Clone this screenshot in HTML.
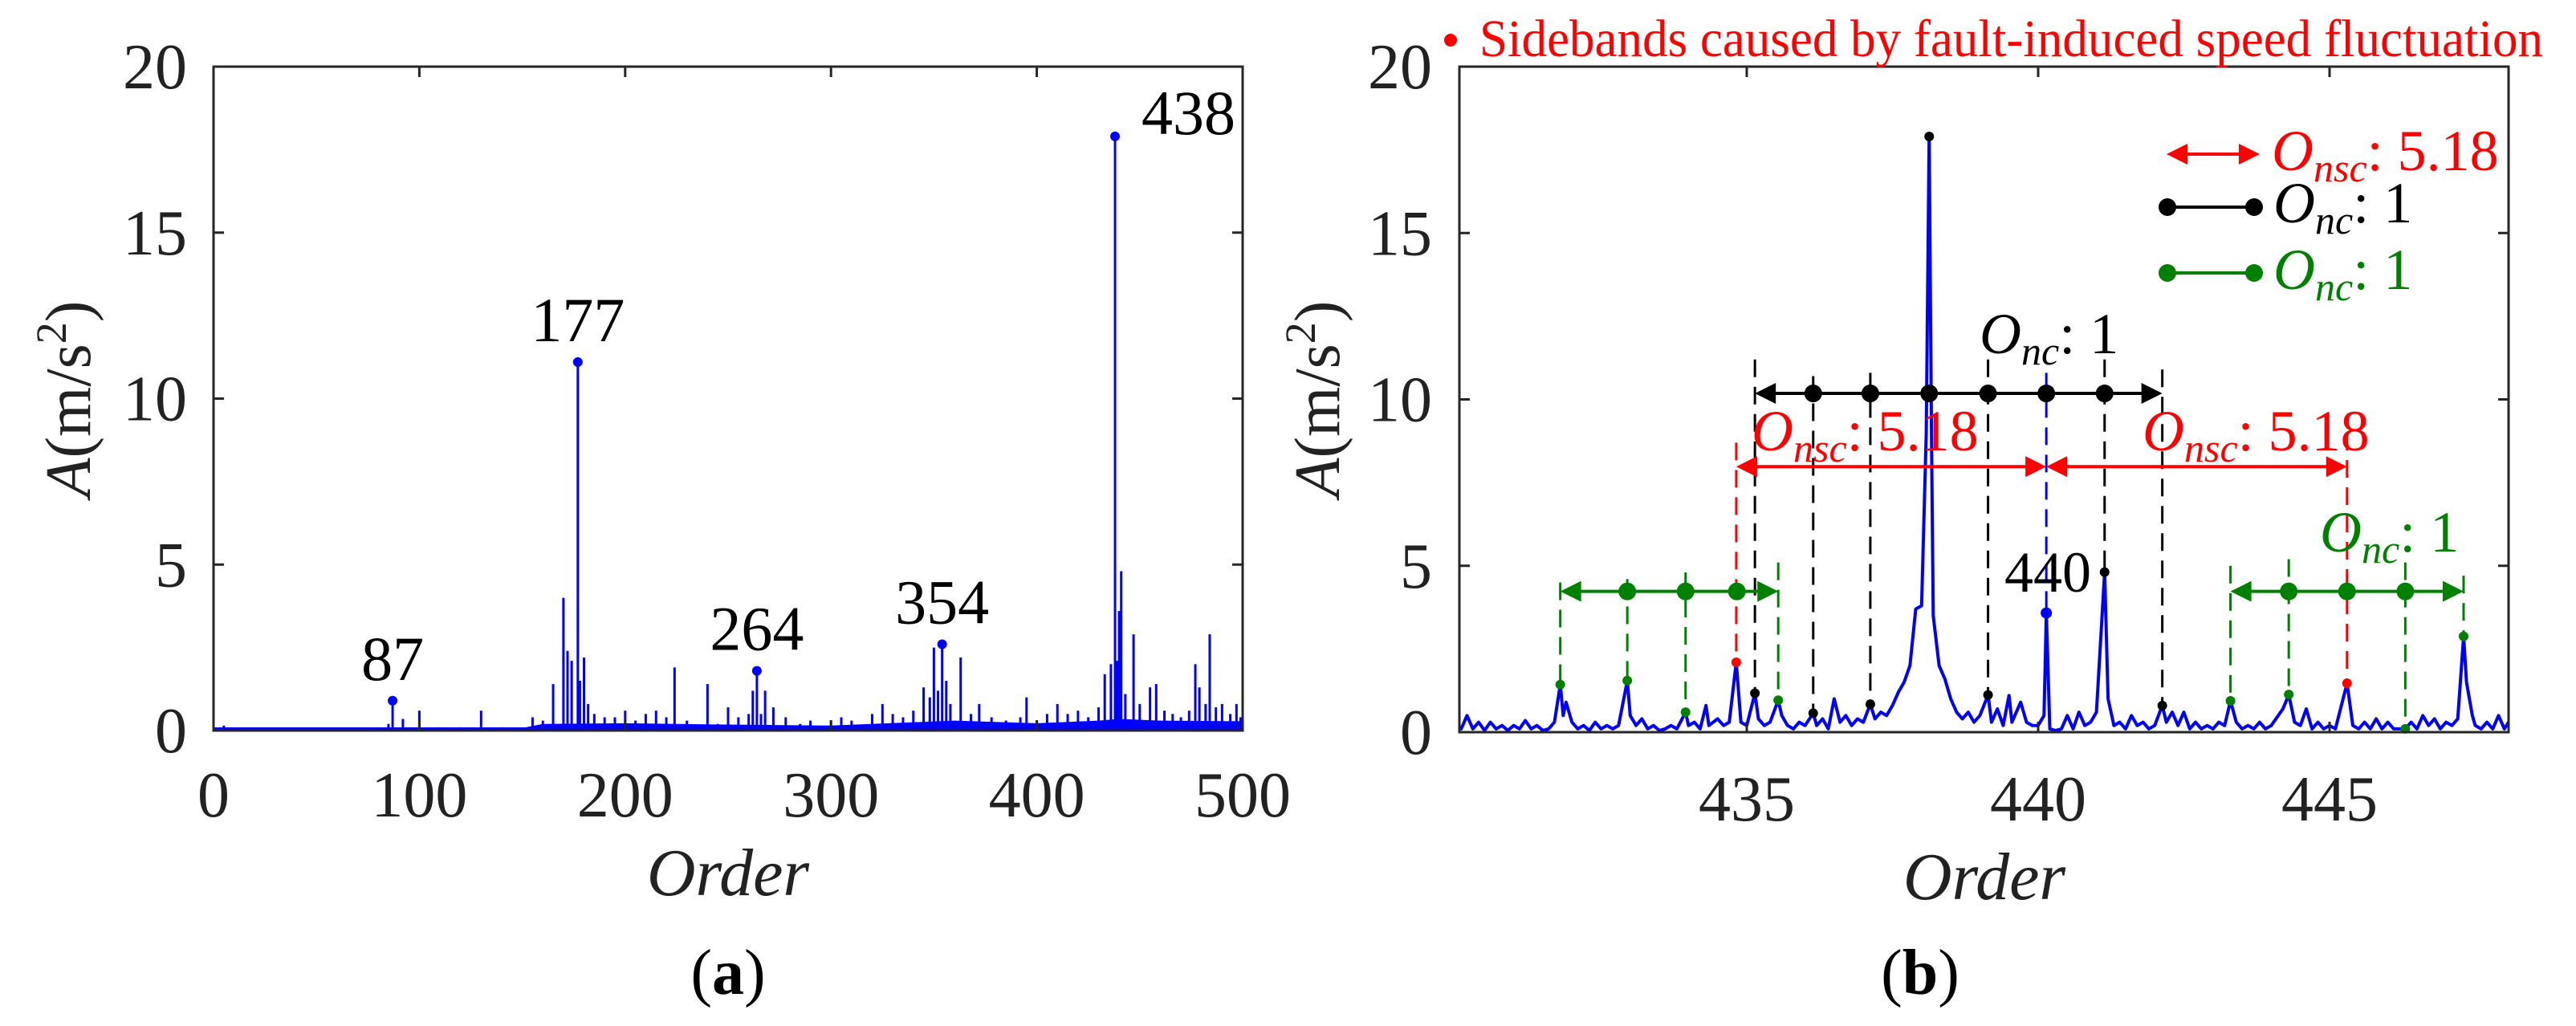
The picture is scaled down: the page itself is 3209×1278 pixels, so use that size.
<!DOCTYPE html>
<html><head><meta charset="utf-8">
<style>
html,body{margin:0;padding:0;background:#fff;}
svg, svg text{font-family:"Liberation Serif","Times New Roman","DejaVu Serif",serif;}
</style></head>
<body>
<svg id="fig" width="3209" height="1273" viewBox="0 0 3209 1273" xmlns="http://www.w3.org/2000/svg" font-family="Liberation Serif, serif">
<g id="pa"></g>
<g id="pb"></g>
</svg>
<script>
// ---------- Panel (a) data ----------
const aTicksX = [0,100,200,300,400,500];
const aTicksY = [0,5,10,15,20];
const aSpikeOrders = [5,70,80,85,87,92,95,100,105,110,120,130,140,155,160,165,170,172,174,177,178,180,182,185,190,195,200,205,210,215,220,224,230,240,245,250,255,260,262,264,266,268,272,278,285,290,300,305,310,320,325,330,335,340,345,348,350,352,354,356,358,363,368,372,378,385,392,395,400,405,410,415,420,425,430,433,436,438,439,440,441,443,447,450,455,458,462,466,470,474,477,479,482,484,487,490,494,497,499];
const aSpikeVals = [0.15,0.05,0.1,0.2,0.9,0.35,0.1,0.6,0.1,0.1,0.1,0.6,0.1,0.4,0.3,1.4,4.0,2.4,2.1,11.1,1.5,2.2,0.8,0.5,0.4,0.4,0.6,0.3,0.5,0.6,0.4,1.9,0.3,1.4,0.2,0.7,0.4,0.5,1.2,1.8,0.5,1.2,0.7,0.4,0.2,0.3,0.3,0.4,0.3,0.5,0.8,0.5,0.4,0.6,1.3,1.0,2.5,1.2,2.6,1.5,0.8,2.2,0.5,0.8,0.4,0.3,0.4,1.0,0.3,0.5,0.8,0.5,0.6,0.4,0.7,1.7,2.0,17.9,2.1,3.6,4.8,1.1,2.9,0.8,1.3,1.4,0.6,0.5,0.4,0.6,2.0,1.3,0.8,2.9,0.7,0.8,0.5,0.8,0.4];
const aFloorOrders = [0,60,80,100,150,160,200,250,300,340,360,400,430,440,460,500];
const aFloorVals = [0.02,0.03,0.06,0.08,0.08,0.2,0.22,0.18,0.15,0.25,0.3,0.22,0.3,0.35,0.3,0.28];
const aPeakOrders = [87,177,264,354,438];
const aPeakVals = [0.9,11.1,1.8,2.6,17.9];
const aPeakLabels = ["87","177","264","354","438"];

// ---------- Panel (b) data ----------
const bTicksX = [435,440,445];
const bTicksY = [0,5,10,15,20];
const bOrders = [430.07,430.1,430.2,430.3,430.4,430.5,430.6,430.7,430.8,430.9,431.0,431.1,431.2,431.3,431.4,431.5,431.6,431.7,431.8,431.85,431.9,432.0,432.1,432.2,432.3,432.4,432.5,432.6,432.7,432.8,432.95,433.0,433.1,433.2,433.3,433.4,433.5,433.6,433.7,433.8,433.95,434.0,434.1,434.2,434.3,434.35,434.5,434.6,434.7,434.82,434.9,435.0,435.14,435.2,435.3,435.4,435.54,435.6,435.7,435.8,435.9,436.0,436.14,436.2,436.3,436.4,436.5,436.6,436.7,436.8,436.9,437.0,437.12,437.2,437.3,437.4,437.5,437.6,437.7,437.8,437.9,438.0,438.08,438.13,438.17,438.2,438.3,438.4,438.5,438.6,438.7,438.8,438.9,439.0,439.14,439.2,439.3,439.4,439.5,439.55,439.7,439.8,439.9,440.0,440.1,440.14,440.2,440.3,440.4,440.5,440.6,440.7,440.8,440.9,441.0,441.14,441.2,441.3,441.4,441.5,441.6,441.7,441.8,441.9,442.0,442.13,442.2,442.3,442.4,442.5,442.6,442.7,442.8,442.9,443.0,443.1,443.2,443.3,443.4,443.5,443.6,443.7,443.8,443.9,444.0,444.2,444.3,444.4,444.5,444.6,444.7,444.8,444.9,445.0,445.1,445.3,445.4,445.5,445.6,445.7,445.8,445.9,446.0,446.1,446.3,446.4,446.5,446.6,446.7,446.8,446.9,447.0,447.1,447.2,447.3,447.35,447.45,447.5,447.6,447.7,447.8,447.9,448.0,448.07];
const bAmps = [0.1,0.1,0.5,0.1,0.3,0.05,0.3,0.1,0.2,0.05,0.2,0.1,0.35,0.1,0.2,0.05,0.1,0.3,1.43,0.5,0.9,0.3,0.1,0.2,0.05,0.3,0.1,0.2,0.1,0.2,1.55,0.5,0.2,0.4,0.1,0.2,0.05,0.1,0.2,0.1,0.6,0.2,0.3,0.1,0.8,0.2,0.4,0.2,0.3,2.1,0.3,0.2,1.17,0.4,0.2,0.3,0.96,0.5,0.2,0.1,0.3,0.2,0.57,0.2,0.4,0.1,1.0,0.3,0.5,0.2,0.4,0.3,0.84,0.4,0.6,0.5,0.8,1.2,1.5,2.0,3.7,3.8,9.0,17.9,9.0,3.5,2.0,1.6,1.0,0.6,0.4,0.6,0.3,0.5,1.12,0.3,0.7,0.2,1.1,0.3,0.9,0.3,0.2,0.2,0.5,3.58,0.1,0.05,0.1,0.5,0.1,0.6,0.2,0.3,0.6,4.81,1.0,0.2,0.3,0.1,0.5,0.2,0.3,0.1,0.2,0.8,0.3,0.6,0.2,0.6,0.1,0.3,0.1,0.2,0.1,0.3,0.2,0.94,0.3,0.1,0.2,0.1,0.3,0.1,0.2,0.7,1.13,0.3,0.2,0.7,0.1,0.3,0.1,0.2,0.1,1.47,0.2,0.1,0.3,0.1,0.4,0.1,0.3,0.1,0.1,0.3,0.1,0.5,0.2,0.4,0.1,0.3,0.2,0.4,2.88,1.5,0.5,0.2,0.1,0.3,0.1,0.5,0.1,0.3];
const bBlackOrders = [435.14,436.14,437.12,438.13,439.14,441.14,442.13];
const bBlackVals = [1.17,0.57,0.84,17.9,1.12,4.81,0.8];
const bGreenOrders = [431.8,432.95,433.95,435.54,443.3,444.3,446.3,447.3];
const bGreenVals = [1.43,1.55,0.6,0.96,0.94,1.13,0.1,2.88];
const bRedOrders = [434.82,445.3];
const bRedVals = [2.1,1.47];
const bBlueOrder = [440.14];
const bBlueVal = [3.58];
const bBlackDashOrders = [435.14,436.14,437.12,439.14,441.14,442.13];
const bBlackDashTop = [11.2,10.7,10.8,11.2,11.2,10.9];
const bBlackDashBot = [1.17,0.57,0.84,1.12,4.81,0.8];
const bGreenDashTop = [4.5,4.6,4.8,5.1,5.0,5.2,5.1,4.7];
const bRedDashTop = [8.7,9.0];
const bBlueDashTop = [10.8];
const bBlackArrowY = 10.18, bBlackArrowFrom = 435.14, bBlackArrowTo = 442.13;
const bBlackArrowDots = [436.14,437.12,438.13,439.14,440.14,441.14];
const bRedArrowY = 7.98;
const bRedArrowSegs = [[434.82,440.14],[440.14,445.3]];
const bGreenArrowY = 4.23;
const bGreenArrowSegs = [[431.8,435.54],[443.3,447.3]];
const bGreenArrowDots = [432.95,433.95,434.83,444.3,445.3,446.3];

const NS = "http://www.w3.org/2000/svg";
function mk(parent, tag, attrs, text){
  const e = document.createElementNS(NS, tag);
  for (const k in attrs) e.setAttribute(k, attrs[k]);
  if (text !== undefined) e.textContent = text;
  parent.appendChild(e);
  return e;
}
const AX = "#262626";

// ---------- Panel (a) ----------
const pa = document.getElementById('pa');
const aL=266, aR=1548, aT=83, aB=910;
const ax = v => aL + (v-0)/(500-0)*(aR-aL);
const ay = v => aB - v/20*(aB-aT);

let fp = `M${ax(aFloorOrders[0])},${aB}`;
aFloorOrders.forEach((o,i)=>{ fp += ` L${ax(o)},${ay(aFloorVals[i])}`; });
fp += ` L${ax(500)},${aB} Z`;
const fl = mk(pa,'path',{d:fp,fill:'#0000ff'});



aSpikeOrders.forEach((o,i)=>{
  const l = mk(pa,'line',{x1:ax(o),x2:ax(o),y1:aB,y2:ay(aSpikeVals[i]),stroke:'#0000ff','stroke-width':3});
  
  
});
const aBase = mk(pa,'line',{x1:aL,x2:aR,y1:aB-2,y2:aB-2,stroke:'#0000ff','stroke-width':4});


aPeakOrders.forEach((o,i)=>{
  const c = mk(pa,'circle',{cx:ax(o),cy:ay(aPeakVals[i]),r:6,fill:'#0000ff'});
  
  
  const is438 = o===438;
  const t = mk(pa,'text',{x:is438?ax(o)+33:ax(o),y:is438?ay(aPeakVals[i])-3:ay(aPeakVals[i])-26,'font-size':78,'text-anchor':is438?'start':'middle',fill:'#000'},aPeakLabels[i]);
  
  
});
const aBox = mk(pa,'rect',{x:aL,y:aT,width:aR-aL,height:aB-aT,fill:'none',stroke:AX,'stroke-width':3});


aTicksX.forEach(v=>{
  mk(pa,'line',{x1:ax(v),x2:ax(v),y1:aB,y2:aB-13,stroke:AX,'stroke-width':3});
  mk(pa,'line',{x1:ax(v),x2:ax(v),y1:aT,y2:aT+13,stroke:AX,'stroke-width':3});
  const t = mk(pa,'text',{x:ax(v),y:1017,'font-size':80,'text-anchor':'middle',fill:'#222'},String(v));
  
  
});
aTicksY.forEach(v=>{
  mk(pa,'line',{x1:aL,x2:aL+13,y1:ay(v),y2:ay(v),stroke:AX,'stroke-width':3});
  mk(pa,'line',{x1:aR,x2:aR-13,y1:ay(v),y2:ay(v),stroke:AX,'stroke-width':3});
  const t = mk(pa,'text',{x:233,y:ay(v)+27,'font-size':80,'text-anchor':'end',fill:'#222'},String(v));
  
  
});

// ---------- Panel (b) ----------
const pb = document.getElementById('pb');
const bL=1818, bR=3125, bT=83, bB=912;
const bx = v => 2176 + (v-435)*72.6;
const by = v => bB - v/20*(bB-bT);

function dash(parent, o, top, bot, col, name){
  const l = mk(parent,'line',{x1:bx(o),x2:bx(o),y1:by(top),y2:by(bot),stroke:col,'stroke-width':3,'stroke-dasharray':'22,12'});
  
  
}
bBlackDashOrders.forEach((o,i)=>dash(pb,o,bBlackDashTop[i],bBlackDashBot[i],'#000','black-dashed-guide'));
bGreenOrders.forEach((o,i)=>dash(pb,o,bGreenDashTop[i],bGreenVals[i],'#008000','green-dashed-guide'));
bRedOrders.forEach((o,i)=>dash(pb,o,bRedDashTop[i],bRedVals[i],'#ff0000','red-dashed-guide'));
dash(pb,bBlueOrder[0],bBlueDashTop[0],bBlueVal[0],'#0000ff','blue-dashed-guide');

let lp = '';
bOrders.forEach((o,i)=>{ lp += (i?' L':'M')+bx(o).toFixed(1)+','+by(bAmps[i]).toFixed(1); });
const bl = mk(pb,'path',{d:lp,fill:'none',stroke:'#0000ff','stroke-width':4,'stroke-linejoin':'round'});



function dot(parent,o,v,col,r,name){
  const c = mk(parent,'circle',{cx:bx(o),cy:by(v),r:r,fill:col});
  
  
}
bBlackOrders.forEach((o,i)=>dot(pb,o,bBlackVals[i],'#000',6,'black-sideband-marker'));
bGreenOrders.forEach((o,i)=>dot(pb,o,bGreenVals[i],'#008000',6,'green-sideband-marker'));
bRedOrders.forEach((o,i)=>dot(pb,o,bRedVals[i],'#ff0000',6,'red-sideband-marker'));
dot(pb,bBlueOrder[0],bBlueVal[0],'#0000ff',7,'blue-peak-marker');

function arrowHead(parent,x,y,dir,col){
  mk(parent,'path',{d:`M${x},${y} L${x-dir*26},${y-13} L${x-dir*26},${y+13} Z`,fill:col});
}
function dblArrow(parent,x1,x2,y,col,name){
  const g = mk(parent,'g',{});
  
  
  mk(g,'line',{x1:x1+10,x2:x2-10,y1:y,y2:y,stroke:col,'stroke-width':4});
  arrowHead(g,x1,y,-1,col); arrowHead(g,x2,y,1,col);
  return g;
}
dblArrow(pb,bx(bBlackArrowFrom),bx(bBlackArrowTo),by(bBlackArrowY),'#000','black-spacing-arrow');
bBlackArrowDots.forEach(o=>dot(pb,o,bBlackArrowY,'#000',11,'black-arrow-dot'));
bRedArrowSegs.forEach(s=>dblArrow(pb,bx(s[0]),bx(s[1]),by(bRedArrowY),'#ff0000','red-spacing-arrow'));
bGreenArrowSegs.forEach(s=>dblArrow(pb,bx(s[0]),bx(s[1]),by(bGreenArrowY),'#008000','green-spacing-arrow'));
bGreenArrowDots.forEach(o=>dot(pb,o,bGreenArrowY,'#008000',11,'green-arrow-dot'));

const bBox = mk(pb,'rect',{x:bL,y:bT,width:bR-bL,height:bB-bT,fill:'none',stroke:AX,'stroke-width':3});


bTicksX.forEach(v=>{
  mk(pb,'line',{x1:bx(v),x2:bx(v),y1:bB,y2:bB-13,stroke:AX,'stroke-width':3});
  mk(pb,'line',{x1:bx(v),x2:bx(v),y1:bT,y2:bT+13,stroke:AX,'stroke-width':3});
  const t = mk(pb,'text',{x:bx(v),y:1022,'font-size':80,'text-anchor':'middle',fill:'#222'},String(v));
  
  
});
bTicksY.forEach(v=>{
  mk(pb,'line',{x1:bL,x2:bL+13,y1:by(v),y2:by(v),stroke:AX,'stroke-width':3});
  mk(pb,'line',{x1:bR,x2:bR-13,y1:by(v),y2:by(v),stroke:AX,'stroke-width':3});
  const t = mk(pb,'text',{x:1784,y:by(v)+27,'font-size':80,'text-anchor':'end',fill:'#222'},String(v));
  
  
});
</script>
<script>
const fig = document.getElementById('fig');
const TXT = `
<text x="907" y="1115" font-size="84" font-style="italic" text-anchor="middle" fill="#222">Order</text>
<text transform="translate(112,497) rotate(-90)" font-size="80" text-anchor="middle" fill="#222"><tspan font-style="italic">A</tspan>(m/s<tspan dy="-30" font-size="54">2</tspan><tspan dy="30">)</tspan></text>
<text x="907" y="1238" font-size="80" text-anchor="middle" fill="#000">(<tspan font-weight="bold">a</tspan>)</text>
<text x="2472" y="1120" font-size="84" font-style="italic" text-anchor="middle" fill="#222">Order</text>
<text transform="translate(1668,497) rotate(-90)" font-size="80" text-anchor="middle" fill="#222"><tspan font-style="italic">A</tspan>(m/s<tspan dy="-30" font-size="54">2</tspan><tspan dy="30">)</tspan></text>
<text x="2392" y="1238" font-size="80" text-anchor="middle" fill="#000">(<tspan font-weight="bold">b</tspan>)</text>
<circle cx="1807" cy="50" r="8" fill="#ff0000"/>
<text x="1843" y="70" font-size="66" fill="#ff0000" textLength="1325" lengthAdjust="spacingAndGlyphs">Sidebands caused by fault-induced speed fluctuation</text>
<text x="2497" y="737" font-size="72" fill="#000">440</text>
<text x="2466" y="440" font-size="72" fill="#000"><tspan font-style="italic">O</tspan><tspan font-style="italic" font-size="50" dy="14">nc</tspan><tspan dy="-14">: 1</tspan></text>
<text x="2182" y="561" font-size="72" fill="#ff0000"><tspan font-style="italic">O</tspan><tspan font-style="italic" font-size="50" dy="14">nsc</tspan><tspan dy="-14">: 5.18</tspan></text>
<text x="2669" y="561" font-size="72" fill="#ff0000"><tspan font-style="italic">O</tspan><tspan font-style="italic" font-size="50" dy="14">nsc</tspan><tspan dy="-14">: 5.18</tspan></text>
<text x="2890" y="687" font-size="72" fill="#008000"><tspan font-style="italic">O</tspan><tspan font-style="italic" font-size="50" dy="14">nc</tspan><tspan dy="-14">: 1</tspan></text>
<g>
 <line x1="2712" y1="192" x2="2802" y2="192" stroke="#ff0000" stroke-width="4"/>
 <path d="M2699,192 L2725,179 L2725,205 Z" fill="#ff0000"/>
 <path d="M2815,192 L2789,179 L2789,205 Z" fill="#ff0000"/>
 <text x="2830" y="212" font-size="72" fill="#ff0000"><tspan font-style="italic">O</tspan><tspan font-style="italic" font-size="50" dy="14">nsc</tspan><tspan dy="-14">: 5.18</tspan></text>
 <line x1="2700" y1="258" x2="2808" y2="258" stroke="#000" stroke-width="4"/>
 <circle cx="2700" cy="258" r="11" fill="#000"/><circle cx="2808" cy="258" r="11" fill="#000"/>
 <text x="2832" y="277" font-size="72" fill="#000"><tspan font-style="italic">O</tspan><tspan font-style="italic" font-size="50" dy="14">nc</tspan><tspan dy="-14">: 1</tspan></text>
 <line x1="2700" y1="340" x2="2808" y2="340" stroke="#008000" stroke-width="4"/>
 <circle cx="2700" cy="340" r="11" fill="#008000"/><circle cx="2808" cy="340" r="11" fill="#008000"/>
 <text x="2832" y="360" font-size="72" fill="#008000"><tspan font-style="italic">O</tspan><tspan font-style="italic" font-size="50" dy="14">nc</tspan><tspan dy="-14">: 1</tspan></text>
</g>`;
fig.insertAdjacentHTML('beforeend', TXT);
</script>
</body></html>
